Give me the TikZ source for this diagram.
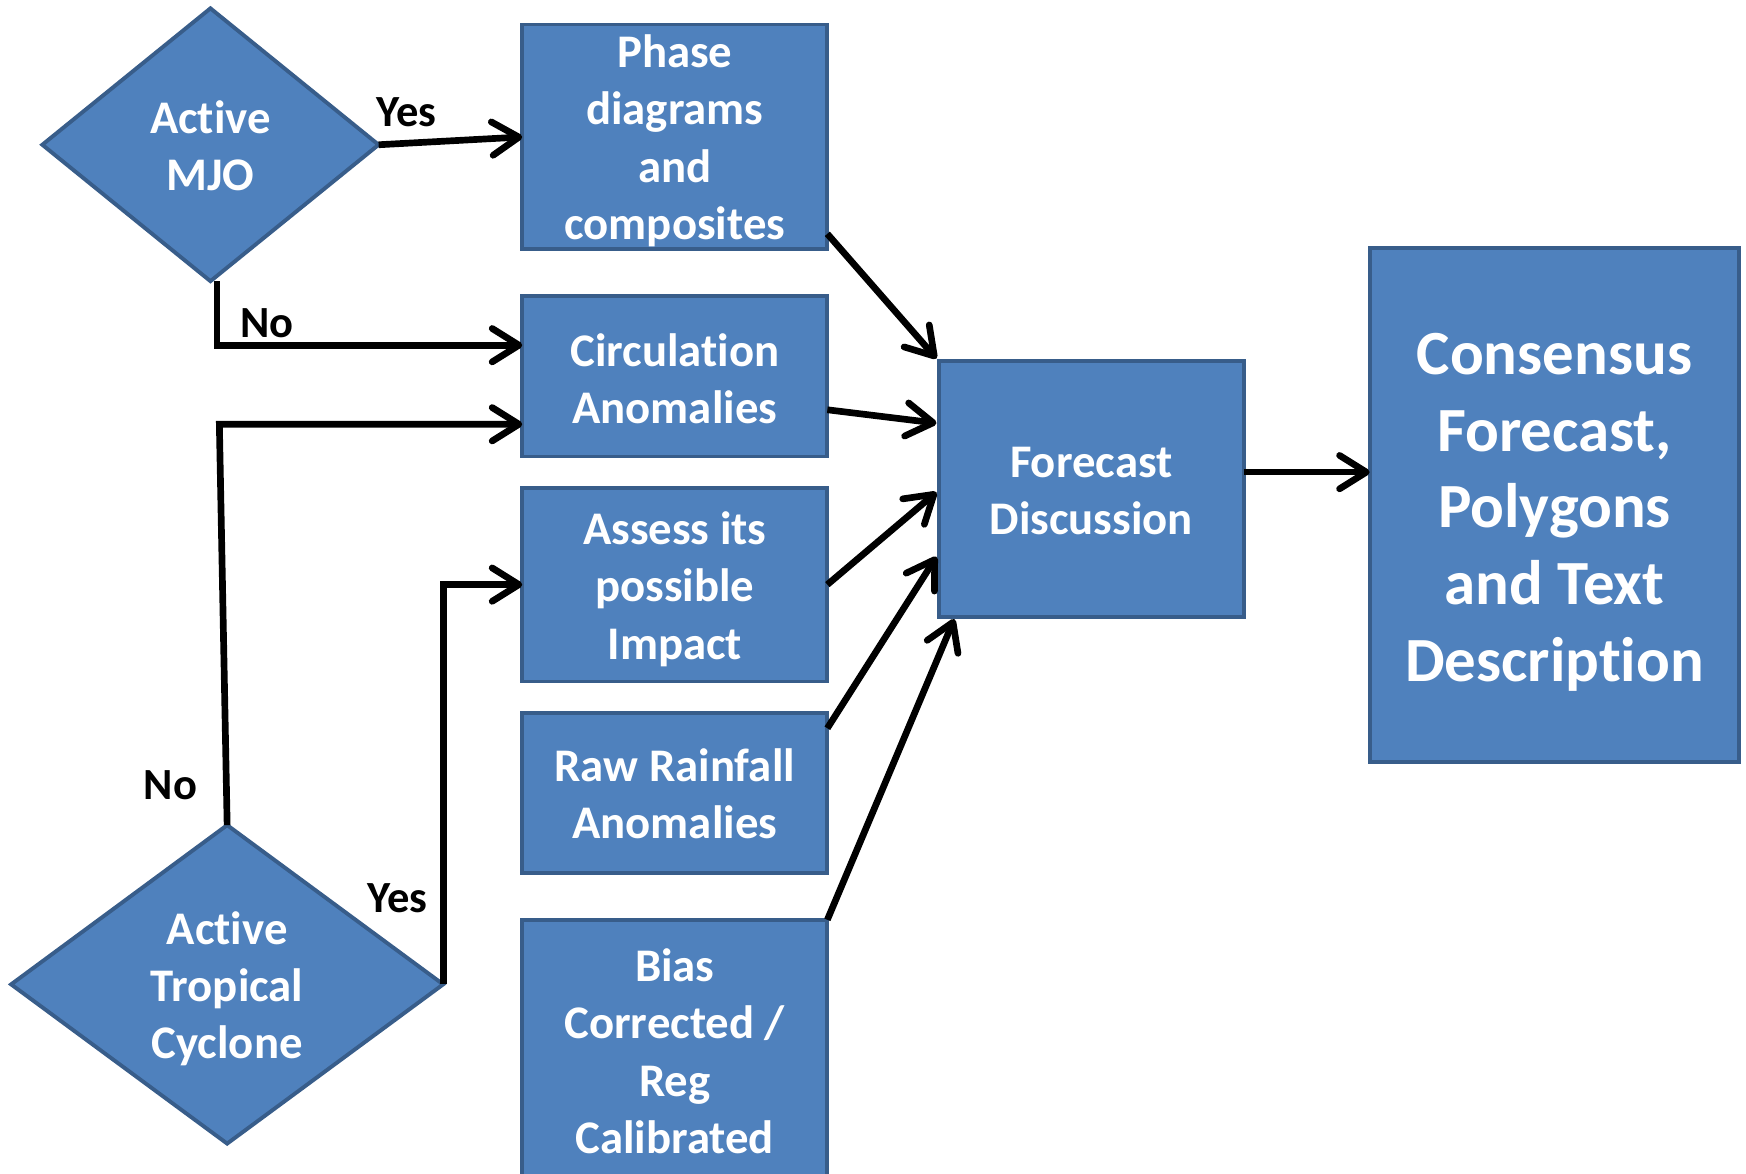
\documentclass[tikz,border=0pt]{standalone}
\usepackage{fontspec}
\setmainfont{Carlito}[Ligatures=NoCommon]
\usetikzlibrary{shapes.geometric,arrows.meta}
\definecolor{boxfill}{HTML}{4F81BD}
\definecolor{boxline}{HTML}{385D8A}
\tikzset{
  box/.style={draw=boxline, fill=boxfill, line width=3.5pt, rectangle, inner sep=0pt, outer sep=0pt},
  dia/.style={draw=boxline, fill=boxfill, line width=3.5pt, diamond, inner sep=0pt, outer sep=0pt},
  wtext/.style={text=white, font=\bfseries\fontsize{42}{51.5}\selectfont, align=center, inner sep=0pt},
  bigtext/.style={text=white, font=\bfseries\fontsize{56.5}{69}\selectfont, align=center, inner sep=0pt},
  lbl/.style={text=black, font=\bfseries\fontsize{40}{48}\selectfont, inner sep=0pt},
  arr/.style={draw=black, line width=6pt, line join=miter, -{Straight Barb[length=24pt,width=30pt,round]}},
}
\begin{document}
\begin{tikzpicture}[x=1pt,y=-1pt]
\useasboundingbox (0,0) rectangle (1568,1054);
\begin{scope}
\clip (0,0) rectangle (1568,1054);
% boxes
\node[box, minimum width=274pt, minimum height=202pt] (phase) at (606,123) {};
\node[wtext] (phaset) at (606,126.5) {Phase\\diagrams\\and\\composites};
\node[box, minimum width=274pt, minimum height=144pt] (circ) at (606,338) {};
\node[wtext] (circt) at (606,340) {Circulat\kern0pt ion\\Anomalies};
\node[box, minimum width=274pt, minimum height=174pt] (assess) at (606,525) {};
\node[wtext] (assesst) at (606,529) {Assess its\\possible\\Impact};
\node[box, minimum width=274pt, minimum height=144pt] (raw) at (606,712) {};
\node[wtext] (rawt) at (606,713) {Raw Rainfall\\Anomalies};
\node[box, minimum width=274pt, minimum height=235pt] (bias) at (606,943.5) {};
\node[wtext] (biast) at (606,944) {Bias\\Corrected /\\Reg\\Calibrated};
\node[box, minimum width=274pt, minimum height=230pt] (fd) at (980,439) {};
\node[wtext] (fdt) at (980,441) {Forecast\\Discussion};
\node[box, minimum width=332pt, minimum height=461pt] (cons) at (1396,453.5) {};
\node[bigtext] (const) at (1396,460) {Consensus\\Forecast,\\Polygons\\and Text\\Descript\kern0pt ion};
% diamonds
\node[dia, minimum width=302pt, minimum height=245pt] (mjo) at (189,130) {};
\node[wtext] (mjot) at (189,131) {Act\kern0pt ive\\MJO};
\node[dia, minimum width=388pt, minimum height=286pt] (tc) at (204,884) {};
\node[wtext] (tct) at (204,888) {Act\kern0pt ive\\Tropical\\Cyclone};
% connectors
\coordinate (bendA) at (197,381);
\draw[arr] (mjo.east) -- (phase.west);
\draw[arr] ([xshift=6pt]mjo.south) |- ([yshift=28pt]circ.west);
\draw[arr] (tc.north) -- (bendA) -- ([yshift=-43pt]circ.west);
\draw[arr] (tc.east) |- (assess.west);
\draw[arr] ([yshift=14pt]phase.south east) -- ([xshift=-2pt,yshift=2pt]fd.north west);
\draw[arr] ([yshift=-30pt]circ.east) -- ([xshift=-2pt,yshift=59pt]fd.west);
\draw[arr] (assess.east) -- ([xshift=-2pt,yshift=-3pt]fd.west);
\draw[arr] ([yshift=-14pt]raw.north east) -- ([xshift=-2pt,yshift=-61pt]fd.west);
\draw[arr] (bias.north east) -- ([xshift=14pt,yshift=-2pt]fd.south west);
\draw[arr] ([yshift=15pt]fd.east) -- ([yshift=15pt]fd.east -| cons.west);
% labels
\node[lbl] (yes1) at (365,101) {Yes};
\node[lbl] (no1) at (240,290) {No};
\node[lbl] (no2) at (153,705) {No};
\node[lbl] (yes2) at (357,807) {Yes};
\end{scope}
\end{tikzpicture}
\end{document}
